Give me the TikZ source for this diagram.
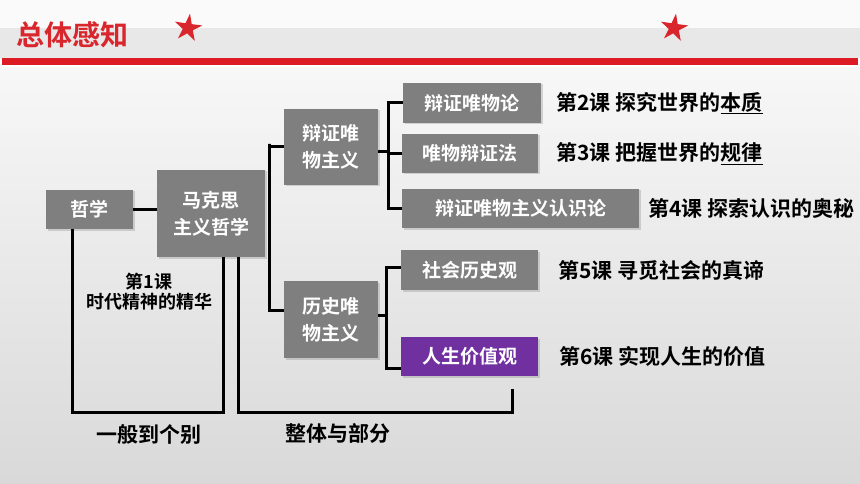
\documentclass[tikz,border=0pt]{standalone}
\usepackage{fontspec}
\setmainfont{Noto Sans CJK SC}[BoldFont={Noto Sans CJK SC Bold}]
\usetikzlibrary{positioning,shapes.geometric,shadows}
\definecolor{boxgray}{HTML}{7F7F7F}
\definecolor{lifepurple}{HTML}{7030A0}
\definecolor{titlered}{HTML}{D9262C}
\definecolor{barred}{HTML}{DD1B24}

\begin{document}
\begin{tikzpicture}[x=1pt,y=-1pt,
  box/.style={fill=boxgray,text=white,font=\fontsize{19}{27}\selectfont\bfseries,
    align=center,inner sep=0pt,
    drop shadow={shadow xshift=1.5pt,shadow yshift=-1.5pt,opacity=0.3}},
  link/.style={line width=3pt},
  lesson/.style={font=\fontsize{21}{25}\selectfont\bfseries,inner sep=0pt},
  redstar/.style={star,star points=5,star point ratio=2.7,fill=titlered,
    minimum size=29pt,inner sep=0pt,rotate=-8}]
\useasboundingbox (0,0) rectangle (860,484);
% background and header
\shade[top color=black!3,bottom color=black!15] (0,68) rectangle (860,484);
\fill[black!2] (0,0) rectangle (860,28);
\fill[black!9] (0,28) rectangle (860,58);
\fill[barred] (2,58) rectangle (858,65);
\node[text=titlered,font=\fontsize{28}{28}\selectfont\bfseries,anchor=west,inner sep=0pt] (title) at (16,35) {总体感知};
\node[redstar] (s1) at (188,28) {};
\node[redstar] (s2) at (674,28) {};

% boxes
\node[box,minimum width=87pt,minimum height=39pt] (zx) at (89.5,209.5) {哲学};
\node[box,minimum width=108pt,minimum height=87pt] (mks) at (211,213.5) {马克思\\主义哲学};
\node[box,minimum width=94pt,minimum height=76pt] (bzwz) at (331,147) {辩证唯\\物主义};
\node[box,minimum width=94pt,minimum height=77pt] (lswz) at (331,319.5) {历史唯\\物主义};
\node[box,minimum width=138pt,minimum height=40pt] (wl) at (472,103) {辩证唯物论};
\node[box,minimum width=136pt,minimum height=39pt] (bzf) at (470,153.5) {唯物辩证法};
\node[box,minimum width=237pt,minimum height=39pt] (rsl) at (520.5,208.5) {辩证唯物主义认识论};
\node[box,minimum width=137pt,minimum height=40pt] (shl) at (469.5,270) {社会历史观};
\node[box,fill=lifepurple,minimum width=137pt,minimum height=39pt] (rsj) at (469.5,356.5) {人生价值观};

% lessons
\node[lesson,right=15pt of wl] (k2) {第2课 探究世界的\underline{本质}};
\node[lesson,right=18pt of bzf] (k3) {第3课 把握世界的\underline{规律}};
\node[lesson,right=9pt of rsl] (k4) {第4课 探索认识的奥秘};
\node[lesson,right=20pt of shl] (k5) {第5课 寻觅社会的真谛};
\node[lesson,right=21pt of rsj] (k6) {第6课 实现人生的价值};
\node[font=\fontsize{18}{20}\selectfont\bfseries,align=center] (k1) at (149,292) {第1课\\时代精神的精华};
\node[font=\fontsize{21}{21}\selectfont\bfseries] (gb) at (149,435) {一般到个别};
\node[font=\fontsize{21}{21}\selectfont\bfseries] (zt) at (338,433) {整体与部分};

% connectors
\draw[link] (zx.east) -- (zx.east -| mks.west);
\coordinate (m1) at ([xshift=4pt,yshift=3pt]mks.north east |- bzwz.west);
\draw[link] (bzwz.west) -| (m1) |- ([yshift=9pt]lswz.west);
\coordinate (b1) at ([xshift=10pt,yshift=-5pt]bzwz.east);
\draw[link] ([yshift=-5pt]bzwz.east) -- (b1);
\draw[link] (wl.west) -| (b1) |- (rsl.west);
\draw[link] (b1 |- bzf.west) -- (bzf.west);
\coordinate (h1) at ([xshift=8pt,yshift=4pt]lswz.east);
\draw[link] ([yshift=4pt]lswz.east) -- (h1);
\draw[link] ([yshift=3pt]shl.west) -| (h1) |- ([yshift=-12pt]rsj.west);
\draw[link] ([xshift=-17pt]zx.south) -- ++(0,183) -| ([xshift=12pt]mks.south);
\draw[link] ([xshift=27pt]mks.south) -- ++(0,155) -| ([xshift=43pt,yshift=-13pt]rsj.south);
\end{tikzpicture}
\end{document}
